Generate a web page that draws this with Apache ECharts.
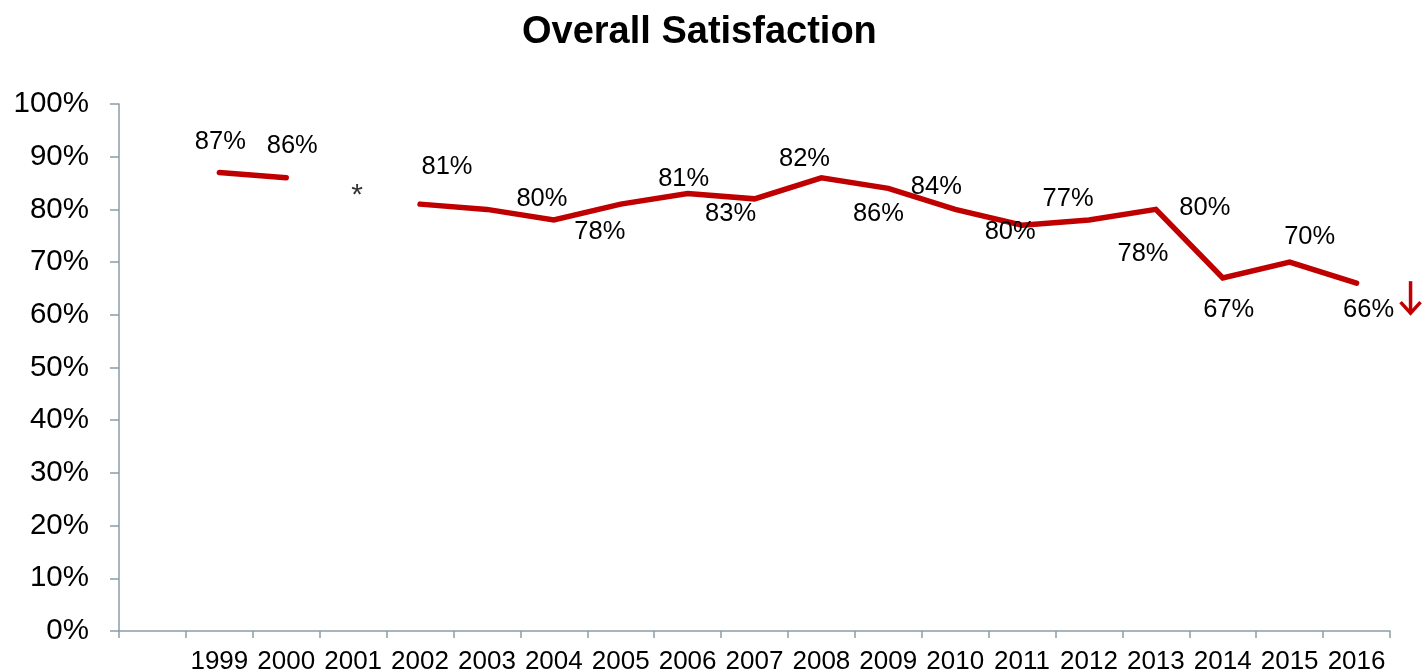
<!DOCTYPE html>
<html>
<head>
<meta charset="utf-8">
<title>Overall Satisfaction</title>
<script src="https://cdn.jsdelivr.net/npm/echarts@6/dist/echarts.min.js"></script>
<style>
  html, body { margin: 0; padding: 0; background: #fff; }
  #chart { width: 1422px; height: 672px; }
</style>
</head>
<body>
<div id="chart"></div>
<script>
// Survey years (the first category slot is left blank)
const years = ['', '1999', '2000', '2001', '2002', '2003', '2004', '2005', '2006', '2007',
  '2008', '2009', '2010', '2011', '2012', '2013', '2014', '2015', '2016'];

// Overall satisfaction (%), no survey result for 2001
const satisfaction = [null, 87, 86, null, 81, 80, 78, 81, 83, 82, 86, 84, 80, 77, 78, 80, 67, 70, 66];

// Note marker shown for the missing year
const noteYear = '2001';
const noteLevel = 82.5;
const noteText = '*';

// Value axis ticks
const yMin = 0, yMax = 100, yStep = 10;

// Label placement relative to each point [dx, dy] in px
const labelOffsets = [null, [1, -31], [6, -32], null, [27, -37], [55, -10], [46, 12],
  [63, -25], [43, 20], [50, -40], [57, 36], [48, -1], [55, 23], [46, -26], [54, 34],
  [49, -1], [6, 32], [20, -25], [12, 27]];

const RED = '#C00000';
const AXIS = '#8C9DA8';
const FONT = '"Liberation Sans", Arial, sans-serif';

const chart = echarts.init(document.getElementById('chart'), null, { renderer: 'canvas' });

const lineData = satisfaction.map((v, i) => {
  if (v === null) return null;
  const off = labelOffsets[i] || [0, 0];
  return { value: v, label: { offset: off } };
});

chart.setOption({
  animation: false,
  backgroundColor: '#ffffff',
  title: {
    text: 'Overall Satisfaction',
    left: 517,
    top: 9,
    textStyle: { fontFamily: FONT, fontWeight: 'bold', fontSize: 38, color: '#000' }
  },
  grid: { left: 119, right: 32, top: 104, bottom: 41, containLabel: false, outerBoundsMode: 'none' },
  xAxis: {
    type: 'category',
    data: years,
    boundaryGap: true,
    axisLine: { show: true, lineStyle: { color: AXIS, width: 1.5 } },
    axisTick: { show: true, interval: 0, length: 7, lineStyle: { color: AXIS, width: 1.5 } },
    axisLabel: { interval: 0, margin: 18, fontFamily: FONT, fontSize: 26, color: '#000' },
    splitLine: { show: false }
  },
  yAxis: {
    type: 'value',
    min: yMin, max: yMax, interval: yStep,
    axisLine: { show: true, lineStyle: { color: AXIS, width: 1.5 } },
    axisTick: { show: true, length: 9, lineStyle: { color: AXIS, width: 1.5 } },
    axisLabel: { formatter: '{value}%', margin: 30, fontFamily: FONT, fontSize: 29.5, color: '#000' },
    splitLine: { show: false }
  },
  series: [
    {
      type: 'line',
      data: lineData,
      connectNulls: false,
      symbol: 'circle',
      symbolSize: 1,
      itemStyle: { color: RED },
      lineStyle: { color: RED, width: 5.5, cap: 'round', join: 'miter' },
      label: {
        show: true,
        position: 'inside',
        align: 'center',
        verticalAlign: 'middle',
        formatter: p => p.value + '%',
        fontFamily: FONT,
        fontSize: 25.5,
        color: '#000'
      },
      z: 3
    },
    {
      type: 'scatter',
      data: [[noteYear, noteLevel]],
      symbolSize: 1,
      itemStyle: { color: 'rgba(0,0,0,0)' },
      label: {
        show: true,
        position: 'inside',
        offset: [4, 0],
        formatter: noteText,
        fontFamily: FONT,
        fontSize: 30,
        color: '#000'
      },
      z: 4
    }
  ]
});

// Downward trend arrow beside the last point
function drawArrow() {
  const lastIdx = satisfaction.length - 1;
  const p = chart.convertToPixel({ gridIndex: 0 }, [years[lastIdx], satisfaction[lastIdx]]);
  const x = p[0] + 54;
  const y0 = p[1] - 2;
  chart.setOption({
    graphic: [{
      type: 'group',
      children: [
        { type: 'line', shape: { x1: x, y1: y0, x2: x, y2: y0 + 32 },
          style: { stroke: RED, lineWidth: 3.5 } },
        { type: 'polyline', shape: { points: [[x - 10, y0 + 21], [x, y0 + 32], [x + 10, y0 + 21]] },
          style: { stroke: RED, lineWidth: 3.5, fill: null } }
      ]
    }]
  });
}
drawArrow();
</script>
</body>
</html>
